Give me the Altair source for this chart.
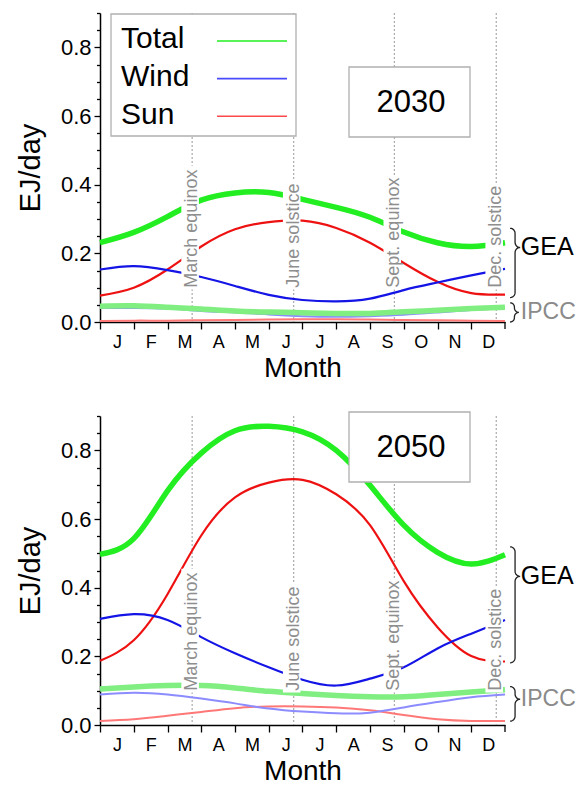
import numpy as np
import pandas as pd
import altair as alt

# ---------------- data ----------------
months = ["J", "F", "M", "A", "M", "J", "J", "A", "S", "O", "N", "D"]
x_pts = [0, 1, 2, 3, 4, 5, 6, 7, 8, 9, 10, 11, 12]

gea_total_2030 = [0.231, 0.261, 0.307, 0.355, 0.376, 0.377, 0.357, 0.334, 0.305, 0.262, 0.231, 0.220, 0.231]
gea_wind_2030 = [0.153, 0.163, 0.151, 0.131, 0.105, 0.079, 0.064, 0.060, 0.068, 0.093, 0.115, 0.136, 0.155]
gea_sun_2030 = [0.077, 0.100, 0.153, 0.220, 0.270, 0.291, 0.295, 0.274, 0.231, 0.172, 0.117, 0.084, 0.080]
ipcc_total_2030 = [0.046, 0.047, 0.043, 0.038, 0.032, 0.029, 0.027, 0.025, 0.025, 0.030, 0.034, 0.039, 0.043]
ipcc_wind_2030 = [0.041, 0.041, 0.039, 0.032, 0.028, 0.022, 0.017, 0.015, 0.017, 0.021, 0.028, 0.035, 0.040]
ipcc_sun_2030 = [0.003, 0.004, 0.004, 0.005, 0.006, 0.007, 0.008, 0.008, 0.007, 0.006, 0.005, 0.004, 0.003]

gea_total_2050 = [0.497, 0.543, 0.682, 0.792, 0.857, 0.870, 0.854, 0.800, 0.698, 0.582, 0.503, 0.469, 0.496]
gea_wind_2050 = [0.309, 0.323, 0.306, 0.256, 0.209, 0.168, 0.132, 0.115, 0.135, 0.168, 0.223, 0.266, 0.306]
gea_sun_2050 = [0.187, 0.247, 0.381, 0.552, 0.663, 0.706, 0.714, 0.672, 0.582, 0.419, 0.285, 0.201, 0.185]
ipcc_total_2050 = [0.105, 0.111, 0.115, 0.115, 0.108, 0.098, 0.092, 0.086, 0.082, 0.082, 0.089, 0.096, 0.103]
ipcc_wind_2050 = [0.089, 0.094, 0.089, 0.077, 0.063, 0.048, 0.039, 0.034, 0.036, 0.051, 0.067, 0.081, 0.089]
ipcc_sun_2050 = [0.012, 0.017, 0.027, 0.038, 0.049, 0.054, 0.054, 0.051, 0.043, 0.029, 0.017, 0.012, 0.012]

event_names = ["March equinox", "June solstice", "Sept. equinox", "Dec. solstice"]
event_pos = [2.73, 5.74, 8.72, 11.74]
event_label_top = [0.455, 0.415, 0.425, 0.405]

legend_labels = ["Total", "Wind", "Sun"]

brace_2030 = {"GEA": (0.273, 0.217, 0.071), "IPCC": (0.056, 0.028, 0.0)}
brace_2050 = {"GEA": (0.519, 0.433, 0.181), "IPCC": (0.112, 0.075, 0.011)}

# ---------------- style ----------------
FONT = "Liberation Sans"
W, H = 405, 309
YMAX = 0.9
PPM = W / 12.0
PPU = H / YMAX

series_color = {"IPCC Sun": "#ff7878", "IPCC Wind": "#8c8cff", "IPCC Total": "#80ee80",
                "GEA Sun": "#ee1111", "GEA Wind": "#1414e6", "GEA Total": "#22ee22"}
legend_colors = ["#22ee22", "#4a4aff", "#ff4a4a"]
brace_label_color = {"GEA": "black", "IPCC": "#8a8a8a"}
brace_label_size = {"GEA": 25, "IPCC": 23}

x_scale = alt.Scale(domain=[0, 12], nice=False, zero=False)
y_scale = alt.Scale(domain=[0, YMAX], nice=False)

# month labels sit mid-month; ticks are shifted back to month boundaries
x_tick_vals = [i + 0.5 for i in range(12)]
y_tick_vals = [round(i * 0.05, 2) for i in range(19)]

label_expr = "''"
for i in range(len(months) - 1, -1, -1):
    label_expr = "(datum.value < %d) ? '%s' : (%s)" % (i + 1, months[i], label_expr)

major_test = "round(datum.value*100) % 20 == 0"

x_axis = alt.Axis(
    values=x_tick_vals, tickCount=40,
    labelExpr=label_expr,
    tickSize=7, tickOffset=-PPM / 2, labelOffset=PPM / 2,
    labelFontSize=18, labelPadding=4, labelAngle=0, labelOverlap=False, labelFlush=False,
    labelFont=FONT, labelColor="black",
    title="Month", titleFontSize=28, titlePadding=3, titleFont=FONT,
    titleFontWeight="normal", titleColor="black",
    grid=False, domainColor="black", domainWidth=1.5, tickColor="black", tickWidth=1.3,
)
y_axis = alt.Axis(
    values=y_tick_vals, tickCount=40,
    labelExpr=major_test + " ? format(datum.value, '.1f') : ''",
    tickSize={"condition": {"test": major_test, "value": 6}, "value": 3.5},
    labelFontSize={"condition": {"test": major_test, "value": 22}, "value": 0},
    labelPadding=3, labelOverlap=False, labelFont=FONT, labelColor="black",
    title="EJ/day", titleFontSize=29, titlePadding=15, titleFont=FONT,
    titleFontWeight="normal", titleColor="black",
    grid=False, domainColor="black", domainWidth=1.5, tickColor="black", tickWidth=1.3,
)


def brace_points(top, mid, bot):
    xa = 12.15 * PPM
    t, m, b = top * PPU, mid * PPU, bot * PPU
    r = min(5.0, (t - m) / 2.2, (m - b) / 2.2)
    pts = []
    for a in np.linspace(90, 0, 7):
        pts.append((xa + r * np.cos(np.radians(a)), t - r + r * np.sin(np.radians(a))))
    for a in np.linspace(180, 270, 7):
        pts.append((xa + 2 * r + r * np.cos(np.radians(a)), m + r + r * np.sin(np.radians(a))))
    for a in np.linspace(90, 180, 7):
        pts.append((xa + 2 * r + r * np.cos(np.radians(a)), m - r + r * np.sin(np.radians(a))))
    for a in np.linspace(0, -90, 7):
        pts.append((xa + r * np.cos(np.radians(a)), b + r + r * np.sin(np.radians(a))))
    return [(px / PPM, py / PPU) for px, py in pts]


def series_layer(series, names, width):
    rows = []
    for name in names:
        for xv, yv in zip(x_pts, series[name]):
            rows.append({"month": xv, "value": yv, "series": name})
    df = pd.DataFrame(rows)
    return alt.Chart(df).mark_line(interpolate="natural", strokeWidth=width).encode(
        x=alt.X("month:Q", scale=x_scale, axis=x_axis),
        y=alt.Y("value:Q", scale=y_scale, axis=y_axis),
        color=alt.Color("series:N", scale=alt.Scale(domain=names, range=[series_color[n] for n in names]), legend=None),
        detail="series:N",
    )


def make_panel(year, series, braces, box_y, with_legend):
    ev = pd.DataFrame({"name": event_names, "pos": event_pos, "top": event_label_top})
    ev["x0"] = ev["pos"] - 0.32
    ev["x1"] = ev["pos"] + 0.2
    ev["y0"] = 0.095
    ev["ybase"] = 0.1

    one = pd.DataFrame({"k": [0]})
    end_tick = pd.DataFrame({"xe": [12]})

    rules = alt.Chart(ev).mark_rule(color="#999999", strokeDash=[2, 2], strokeWidth=1).encode(
        x=alt.X("pos:Q", scale=x_scale, axis=x_axis)
    )
    last_tick = alt.Chart(end_tick).mark_rule(color="black", strokeWidth=1.3).encode(
        x=alt.X("xe:Q", scale=x_scale), y=alt.value(H), y2=alt.value(H + 7)
    )
    thin = series_layer(series, ["IPCC Sun", "IPCC Wind"], 2)
    thick_i = series_layer(series, ["IPCC Total"], 5.5)
    thin_g = series_layer(series, ["GEA Sun", "GEA Wind"], 2.2)
    thick_g = series_layer(series, ["GEA Total"], 5.5)

    masks = alt.Chart(ev).mark_rect(color="white").encode(
        x="x0:Q", x2="x1:Q", y=alt.Y("y0:Q", scale=y_scale), y2="top:Q"
    )
    ev_text = alt.Chart(ev).mark_text(
        angle=270, align="left", baseline="middle", fontSize=18, font=FONT, color="#8e8e8e"
    ).encode(x="pos:Q", y=alt.Y("ybase:Q", scale=y_scale), text="name:N")

    box = alt.Chart(one).mark_rect(fill="white", stroke="#b0b0b0", strokeWidth=1.3).encode(
        x=alt.value(249), x2=alt.value(370), y=alt.value(box_y), y2=alt.value(box_y + 70)
    )
    box_text = alt.Chart(one).mark_text(
        fontSize=31, font=FONT, color="black", align="center", baseline="middle"
    ).encode(x=alt.value(311), y=alt.value(box_y + 36), text=alt.value(str(year)))

    brows = []
    for label, (t, m, b) in braces.items():
        for i, (bx, by) in enumerate(brace_points(t, m, b)):
            brows.append({"grp": label, "i": i, "bx": bx, "by": by})
    bdf = pd.DataFrame(brows)
    brace = alt.Chart(bdf).mark_line(color="#222222", strokeWidth=1.3).encode(
        x="bx:Q", y="by:Q", detail="grp:N", order="i:Q"
    )
    brace_texts = []
    for label, (t, m, b) in braces.items():
        d = pd.DataFrame({"label": [label], "mid": [m], "xl": [12.47]})
        brace_texts.append(alt.Chart(d).mark_text(
            align="left", baseline="middle", fontSize=brace_label_size[label], font=FONT,
            color=brace_label_color[label]
        ).encode(x="xl:Q", y="mid:Q", text="label:N"))

    layers = [rules, last_tick, thin, thick_i, thin_g, thick_g, masks, ev_text]
    if with_legend:
        lbox = alt.Chart(one).mark_rect(fill="white", stroke="#b0b0b0", strokeWidth=1.3).encode(
            x=alt.value(11), x2=alt.value(196), y=alt.value(1), y2=alt.value(123)
        )
        lt = []
        for i, (lab, col) in enumerate(zip(legend_labels, legend_colors)):
            d = pd.DataFrame({"lab": [lab]})
            lt.append(alt.Chart(d).mark_text(align="left", baseline="middle", fontSize=30, font=FONT, color="black").encode(
                x=alt.value(21), y=alt.value(26 + 38 * i), text="lab:N"))
            lt.append(alt.Chart(d).mark_rule(color=col, strokeWidth=1.6).encode(
                x=alt.value(117), x2=alt.value(187), y=alt.value(28 + 37.6 * i)))
        layers += [lbox] + lt
    layers += [box, box_text, brace] + brace_texts
    return alt.layer(*layers).resolve_scale(color="independent").properties(width=W, height=H)


s2030 = {"GEA Total": gea_total_2030, "GEA Wind": gea_wind_2030, "GEA Sun": gea_sun_2030,
         "IPCC Total": ipcc_total_2030, "IPCC Wind": ipcc_wind_2030, "IPCC Sun": ipcc_sun_2030}
s2050 = {"GEA Total": gea_total_2050, "GEA Wind": gea_wind_2050, "GEA Sun": gea_sun_2050,
         "IPCC Total": ipcc_total_2050, "IPCC Wind": ipcc_wind_2050, "IPCC Sun": ipcc_sun_2050}

top = make_panel(2030, s2030, brace_2030, 54, True)
bottom = make_panel(2050, s2050, brace_2050, -4, False)

chart = alt.vconcat(top, bottom, spacing=29).configure_view(stroke=None).configure_axis(
    labelOverlap=False
).properties(
    padding={"left": 8, "top": 4, "right": 0, "bottom": 0}, background="white"
)
chart.save("out.html", embed_options={"renderer": "svg", "actions": False})
